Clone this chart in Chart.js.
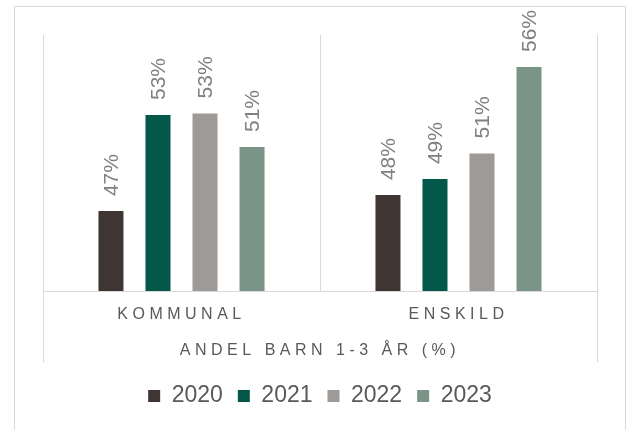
<!DOCTYPE html>
<html><head><meta charset="utf-8">
<style>html,body{margin:0;padding:0;background:#fff}#wrap{position:relative;width:626px;height:430px}</style>
<script src="https://cdn.jsdelivr.net/npm/chart.js@4/dist/chart.umd.min.js"></script>
</head><body><div id="wrap"><canvas id="c" width="626" height="430"></canvas></div>
<script>
const categories = ['KOMMUNAL', 'ENSKILD'];
const years = ['2020', '2021', '2022', '2023'];
const values2020 = [47.0, 48.0];
const values2021 = [53.0, 49.0];
const values2022 = [53.1, 50.6];
const values2023 = [51.0, 56.0];
const seriesValues = [values2020, values2021, values2022, values2023];
const colors = ['#3f3633', '#03584a', '#9e9a98', '#7a9488'];
const axisTitle = 'ANDEL BARN 1-3 ÅR (%)';
const yMin = 42, yMax = 58;

const FONT = '"Liberation Sans", Arial, sans-serif';
const GRID = '#d9d9d9';

const framePlugin = {
  id: 'frame',
  beforeDraw(chart) {
    const ctx = chart.ctx;
    ctx.save();
    ctx.fillStyle = '#fff';
    ctx.fillRect(0, 0, chart.width, chart.height);
    ctx.strokeStyle = GRID;
    ctx.lineWidth = 1;
    ctx.beginPath();
    ctx.moveTo(14.5, chart.height);
    ctx.lineTo(14.5, 6.5);
    ctx.lineTo(625.5, 6.5);
    ctx.lineTo(625.5, chart.height);
    ctx.stroke();
    ctx.restore();
    const sx = chart.scales.x;
    if (sx && !sx.__ls) {
      const dl = sx.drawLabels, dt = sx.drawTitle;
      sx.drawLabels = function (a) { const c = this.ctx; c.save(); c.letterSpacing = '4.5px'; dl.call(this, a); c.restore(); };
      sx.drawTitle = function () { const c = this.ctx; c.save(); c.letterSpacing = '4.5px'; dt.call(this); c.restore(); };
      sx.__ls = true;
    }
  },
  afterDraw(chart) {
    const ctx = chart.ctx, a = chart.chartArea, sx = chart.scales.x;
    ctx.save();
    ctx.strokeStyle = GRID;
    ctx.lineWidth = 1;
    ctx.beginPath();
    [a.left, a.right].forEach(x => {
      const px = Math.round(x) + 0.5;
      ctx.moveTo(px, a.bottom);
      ctx.lineTo(px, sx.bottom - 7);
    });
    ctx.stroke();
    ctx.restore();
  }
};

const labelPlugin = {
  id: 'vlabels',
  afterDatasetsDraw(chart) {
    const ctx = chart.ctx;
    chart.data.datasets.forEach((ds, i) => {
      const meta = chart.getDatasetMeta(i);
      meta.data.forEach((bar, j) => {
        ctx.save();
        ctx.translate(bar.x + 1, bar.y - 15);
        ctx.rotate(-Math.PI / 2);
        ctx.font = '21px ' + FONT;
        ctx.fillStyle = '#808080';
        ctx.textAlign = 'left';
        ctx.textBaseline = 'middle';
        ctx.fillText(Math.round(ds.data[j]) + '%', 0, 0);
        ctx.restore();
      });
    });
  }
};

new Chart(document.getElementById('c'), {
  type: 'bar',
  data: {
    labels: categories,
    datasets: years.map((y, i) => ({
      label: y,
      data: seriesValues[i],
      backgroundColor: colors[i],
      borderWidth: 0,
      categoryPercentage: 0.679,
      barPercentage: 0.532
    }))
  },
  options: {
    responsive: false,
    animation: false,
    devicePixelRatio: 1,
    layout: { padding: { left: 43, right: 29, top: 35, bottom: 12.5 } },
    scales: {
      x: {
        grid: { offset: true, color: GRID, lineWidth: 1, drawTicks: false },
        border: { display: true, color: GRID, width: 1 },
        ticks: { color: '#595959', font: { family: FONT, size: 16 }, padding: 14, maxRotation: 0, autoSkip: false },
        title: { display: true, text: axisTitle, color: '#595959', font: { family: FONT, size: 16 }, padding: { top: 3, bottom: 9 } }
      },
      y: {
        display: false,
        min: yMin,
        max: yMax,
        grid: { display: false }
      }
    },
    plugins: {
      legend: {
        position: 'bottom',
        labels: { boxWidth: 12, boxHeight: 12, padding: 15, color: '#595959', font: { family: FONT, size: 23 } }
      },
      tooltip: { enabled: false }
    }
  },
  plugins: [framePlugin, labelPlugin]
});
</script>
</body></html>
